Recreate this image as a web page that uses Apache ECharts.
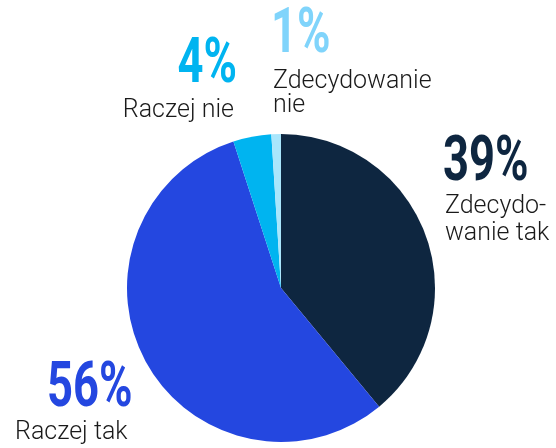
<!DOCTYPE html>
<html>
<head>
<meta charset="utf-8">
<script src="https://cdn.jsdelivr.net/npm/echarts@6/dist/echarts.min.js"></script>
<style>
html,body{margin:0;padding:0;background:#fff;}
#main{width:556px;height:448px;}
</style>
</head>
<body>
<div id="main"></div>
<script>
// Data
var categories = ['Zdecydowanie tak', 'Raczej tak', 'Raczej nie', 'Zdecydowanie nie'];
var labelTexts = ['Zdecydo-\nwanie tak', 'Raczej tak', 'Raczej nie', 'Zdecydowanie\nnie'];
var values = [39, 56, 4, 1];

// Styles
var sliceColors = ['#0e2640', '#2447e0', '#00b4f0', '#a9e6fc'];
var labelColors = ['#0e2640', '#2447e0', '#00b4f0', '#80d4fb'];
// label layout: [pctX, pctY(cap center), align, textX, textY(top), lineHeight]
var labelLayout = [
  [443, 164, 'left', 445, 193, 27],
  [47, 390, 'left', 15, 420, 26],
  [237, 66, 'right', 234, 98, 26],
  [271, 36, 'left', 273, 70, 24]
];

var chart = echarts.init(document.getElementById('main'), null, {renderer: 'canvas'});

var graphics = [];
values.forEach(function (v, i) {
  var L = labelLayout[i];
  graphics.push({
    type: 'text',
    x: L[0], y: L[1],
    scaleX: 0.72,
    originX: 0, originY: 0,
    style: {
      text: v + '%',
      x: 0, y: 0,
      font: 'bold 63px Roboto, sans-serif',
      fill: labelColors[i],
      textAlign: L[2], align: L[2],
      textVerticalAlign: 'middle', verticalAlign: 'middle'
    }
  });
  graphics.push({
    type: 'text',
    x: L[3], y: L[4],
    style: {
      text: labelTexts[i],
      x: 0, y: 0,
      font: '300 25px Roboto, "Liberation Sans", sans-serif',
      lineHeight: L[5],
      fill: '#1a1a1a',
      textAlign: L[2], align: L[2],
      textVerticalAlign: 'top', verticalAlign: 'top'
    }
  });
});

chart.setOption({
  animation: false,
  backgroundColor: '#ffffff',
  series: [{
    type: 'pie',
    center: [281, 288],
    radius: 154,
    startAngle: 90,
    clockwise: true,
    label: {show: false},
    labelLine: {show: false},
    emphasis: {disabled: true},
    itemStyle: {borderWidth: 0},
    data: categories.map(function (c, i) {
      return {name: c, value: values[i], itemStyle: {color: sliceColors[i]}};
    })
  }],
  graphic: graphics
});
</script>
</body>
</html>
